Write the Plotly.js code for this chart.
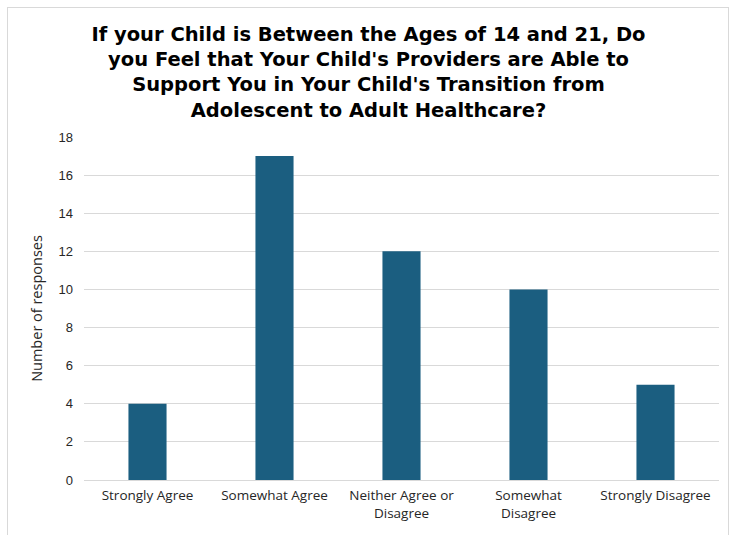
<!DOCTYPE html>
<html>
<head>
<meta charset="utf-8">
<script src="https://cdn.plot.ly/plotly-3.0.1.min.js"></script>
<style>
  html, body { margin: 0; padding: 0; background: #ffffff; }
  #frame { position: absolute; left: 7px; top: 7px; width: 722px; height: 540px; border: 1px solid #d9d9d9; box-sizing: border-box; }
  #chart { position: absolute; left: 0; top: 0; width: 737px; height: 535px; }
</style>
</head>
<body>
<div id="frame"></div>
<div id="chart"></div>
<script>
// Survey answers and response counts
const categories = [
  "Strongly Agree",
  "Somewhat Agree",
  "Neither Agree or<br>Disagree",
  "Somewhat<br>Disagree",
  "Strongly Disagree"
];
const responses = [4, 17, 12, 10, 5];
const yTicks = [0, 2, 4, 6, 8, 10, 12, 14, 16, 18];

const chartTitle = "If your Child is Between the Ages of 14 and 21, Do<br>you Feel that Your Child's Providers are Able to<br>Support You in Your Child's Transition from<br>Adolescent to Adult Healthcare?";

const trace = {
  type: "bar",
  x: categories,
  y: responses,
  marker: { color: "#1b5e80" },
  hoverinfo: "x+y"
};

const layout = {
  width: 737,
  height: 535,
  paper_bgcolor: "rgba(0,0,0,0)",
  plot_bgcolor: "rgba(0,0,0,0)",
  margin: { l: 84, r: 18, t: 137, b: 55 },
  bargap: 0.7,
  showlegend: false,
  title: {
    text: chartTitle,
    x: 0.5,
    xanchor: "center",
    y: 0.924,
    yanchor: "top",
    font: { family: "DejaVu Sans", size: 19.5, color: "#000000", weight: "bold" }
  },
  xaxis: {
    type: "category",
    showgrid: false,
    showline: true,
    linecolor: "#d9d9d9",
    linewidth: 1,
    ticks: "",
    ticklabelstandoff: 3,
    tickfont: { family: "Open Sans", size: 13.5, color: "#262626" },
    automargin: false
  },
  yaxis: {
    range: [0, 18],
    tickvals: yTicks,
    ticktext: yTicks.map(String),
    showgrid: true,
    gridcolor: "#d9d9d9",
    gridwidth: 1,
    zeroline: false,
    showline: false,
    ticks: "",
    ticklabelstandoff: 10,
    tickfont: { family: "Liberation Sans", size: 13, color: "#262626" },
    title: {
      text: "Number of responses",
      standoff: 12,
      font: { family: "Open Sans", size: 14.5, color: "#262626" }
    },
    automargin: false
  }
};

Plotly.newPlot("chart", [trace], layout, { displayModeBar: false, staticPlot: true });
</script>
</body>
</html>
